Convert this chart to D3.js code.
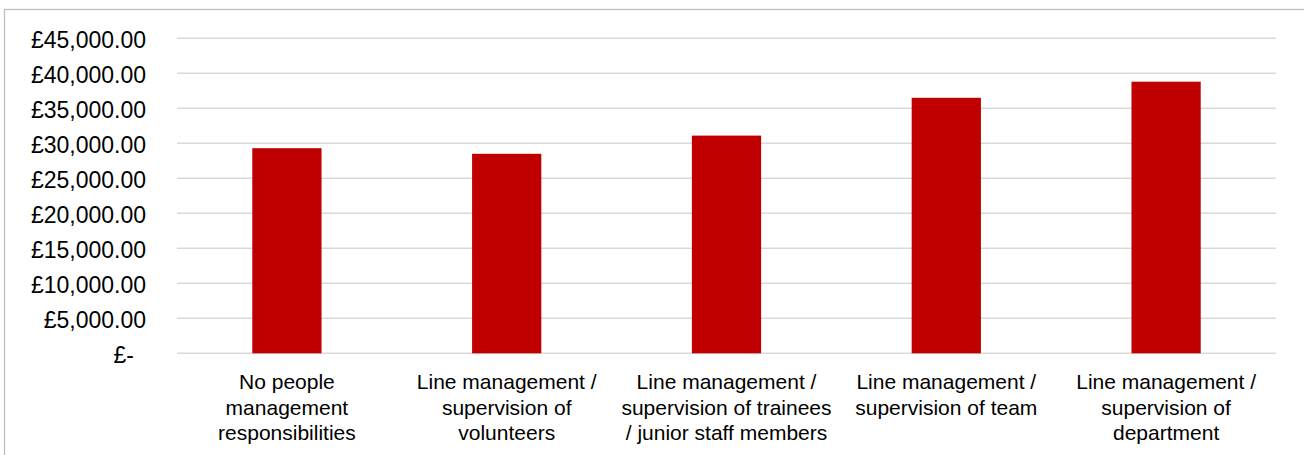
<!DOCTYPE html>
<html>
<head>
<meta charset="utf-8">
<script src="https://cdn.jsdelivr.net/npm/d3@7"></script>
<style>
  html, body { margin: 0; padding: 0; background: #fff; }
  svg { display: block; font-family: "Liberation Sans", Arial, sans-serif; }
</style>
</head>
<body>
<svg id="chart" width="1304" height="455"></svg>
<script>
const categories = [
  ["No people", "management", "responsibilities"],
  ["Line management /", "supervision of", "volunteers"],
  ["Line management /", "supervision of trainees", "/ junior staff members"],
  ["Line management /", "supervision of team"],
  ["Line management /", "supervision of", "department"]
];
const values = [29300, 28500, 31100, 36500, 38800];
const tickValues = [0, 5000, 10000, 15000, 20000, 25000, 30000, 35000, 40000, 45000];
const tickLabels = ["£-", "£5,000.00", "£10,000.00", "£15,000.00", "£20,000.00", "£25,000.00", "£30,000.00", "£35,000.00", "£40,000.00", "£45,000.00"];

(function () {
const svg = d3.select("#chart");
const mLeft = 177, mRight = 1276, mTop = 38.3, mBottom = 353.3;

// outer frame (only left & top visible in view)
svg.append("rect")
  .attr("x", 4.5).attr("y", 9.5)
  .attr("width", 1400).attr("height", 600)
  .attr("fill", "none").attr("stroke", "#bfbfbf").attr("stroke-width", 1.3);

const y = d3.scaleLinear().domain([0, 45000]).range([mBottom, mTop]);
const x = d3.scaleBand().domain(d3.range(categories.length))
  .range([mLeft, mRight]).paddingInner(0.685).paddingOuter(0.3425);

// gridlines
svg.append("g").selectAll("line").data(tickValues).join("line")
  .attr("x1", mLeft).attr("x2", mRight)
  .attr("y1", d => y(d)).attr("y2", d => y(d))
  .attr("stroke", "#d9d9d9").attr("stroke-width", 1.5);

// y-axis labels
const yAxis = d3.axisLeft(y).tickValues(tickValues)
  .tickFormat((d, i) => tickLabels[i]).tickSize(0).tickPadding(0);
const yg = svg.append("g").attr("transform", "translate(146,0)").call(yAxis);
yg.select(".domain").remove();
yg.selectAll("text")
  .attr("font-size", 23).attr("fill", "#000")
  .attr("font-family", "'Liberation Sans', Arial, sans-serif")
  .attr("dy", "0.4em")
  .attr("dx", d => d === 0 ? -12 : 0);

// bars
svg.append("g").selectAll("rect").data(values).join("rect")
  .attr("x", (d, i) => x(i))
  .attr("width", x.bandwidth())
  .attr("y", d => y(d))
  .attr("height", d => y(0) - y(d))
  .attr("fill", "#c00000");

// category labels
const xAxis = d3.axisBottom(x).tickSize(0).tickFormat(() => "");
const xg = svg.append("g").attr("transform", `translate(0,${mBottom})`).call(xAxis);
xg.select(".domain").remove();
xg.selectAll(".tick").each(function(d) {
  const t = d3.select(this).append("text")
    .attr("text-anchor", "middle")
    .attr("font-size", 21).attr("fill", "#000")
    .attr("font-family", "'Liberation Sans', Arial, sans-serif");
  categories[d].forEach((line, j) => {
    t.append("tspan").attr("x", 0).attr("y", 36 + j * 25.5).text(line);
  });
});
})();
</script>
</body>
</html>
